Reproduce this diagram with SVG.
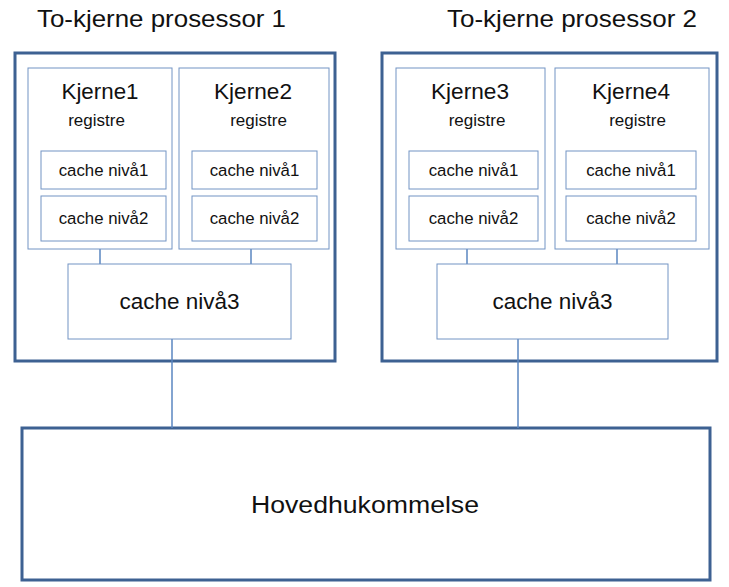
<svg xmlns="http://www.w3.org/2000/svg" width="729" height="587" viewBox="0 0 729 587">
<style>
text{font-family:"Liberation Sans",Arial,sans-serif;fill:#111;text-anchor:middle}
.outer{fill:#fff;stroke:#3d6192;stroke-width:3}
.box{fill:#fff;stroke:#7394c4;stroke-width:1}
.conn{stroke:#5a86c0;stroke-width:1.5;fill:none}
.title{font-size:24px}
.core{font-size:21.5px}
.reg{font-size:17px}
.c12{font-size:16.8px}
.c3{font-size:22.5px}
.mem{font-size:24.5px}
</style>
<rect width="729" height="587" fill="#fff"/>
<text class="title" x="161.5" y="27" textLength="249" lengthAdjust="spacingAndGlyphs">To-kjerne prosessor 1</text>
<text class="title" x="572" y="27" textLength="250" lengthAdjust="spacingAndGlyphs">To-kjerne prosessor 2</text>
<g id="proc1"><rect class="outer" x="15" y="53" width="320" height="308"/></g>
<g id="proc2"><rect class="outer" x="382" y="53" width="335" height="308"/></g>
<g id="mem"><rect class="outer" x="22" y="428" width="688" height="152"/>
<text class="mem" x="365" y="513" textLength="228" lengthAdjust="spacingAndGlyphs">Hovedhukommelse</text></g>
<g id="connectors">
<line class="conn" x1="100" y1="189" x2="100" y2="196"/>
<line class="conn" x1="251" y1="189" x2="251" y2="196"/>
<line class="conn" x1="467" y1="189" x2="467" y2="196"/>
<line class="conn" x1="617" y1="189" x2="617" y2="196"/>
<line class="conn" x1="100" y1="241" x2="100" y2="264"/>
<line class="conn" x1="251" y1="241" x2="251" y2="264"/>
<line class="conn" x1="467" y1="241" x2="467" y2="264"/>
<line class="conn" x1="617" y1="241" x2="617" y2="264"/>
<line class="conn" x1="172" y1="339" x2="172" y2="428"/>
<line class="conn" x1="518" y1="339" x2="518" y2="428"/>
</g>
<g id="kjerne1"><rect class="box" x="28" y="68" width="144" height="181"/>
<text class="core" x="100" y="99" textLength="77" lengthAdjust="spacingAndGlyphs">Kjerne1</text>
<text class="reg" x="96.5" y="126">registre</text></g>
<g id="kjerne2"><rect class="box" x="179" y="68" width="150" height="181"/>
<text class="core" x="253" y="99" textLength="78" lengthAdjust="spacingAndGlyphs">Kjerne2</text>
<text class="reg" x="258.5" y="126">registre</text></g>
<g id="kjerne3"><rect class="box" x="396" y="68" width="149" height="181"/>
<text class="core" x="470" y="99" textLength="78" lengthAdjust="spacingAndGlyphs">Kjerne3</text>
<text class="reg" x="477" y="126">registre</text></g>
<g id="kjerne4"><rect class="box" x="555" y="68" width="154" height="181"/>
<text class="core" x="631" y="99" textLength="78" lengthAdjust="spacingAndGlyphs">Kjerne4</text>
<text class="reg" x="637.5" y="126">registre</text></g>
<g id="k1c1"><rect class="box" x="41" y="151" width="125" height="38"/><text class="c12" x="103.5" y="176">cache nivå1</text></g>
<g id="k1c2"><rect class="box" x="41" y="196" width="125" height="45"/><text class="c12" x="103.5" y="224">cache nivå2</text></g>
<g id="k2c1"><rect class="box" x="192" y="151" width="125" height="38"/><text class="c12" x="254.5" y="176">cache nivå1</text></g>
<g id="k2c2"><rect class="box" x="192" y="196" width="125" height="45"/><text class="c12" x="254.5" y="224">cache nivå2</text></g>
<g id="k3c1"><rect class="box" x="409" y="151" width="129" height="38"/><text class="c12" x="473.5" y="176">cache nivå1</text></g>
<g id="k3c2"><rect class="box" x="409" y="196" width="129" height="45"/><text class="c12" x="473.5" y="224">cache nivå2</text></g>
<g id="k4c1"><rect class="box" x="566" y="151" width="130" height="38"/><text class="c12" x="631" y="176">cache nivå1</text></g>
<g id="k4c2"><rect class="box" x="566" y="196" width="130" height="45"/><text class="c12" x="631" y="224">cache nivå2</text></g>
<g id="p1c3"><rect class="box" x="68" y="264" width="223" height="75"/><text class="c3" x="179.5" y="309">cache nivå3</text></g>
<g id="p2c3"><rect class="box" x="437" y="264" width="231" height="75"/><text class="c3" x="552.5" y="309">cache nivå3</text></g>
</svg>
